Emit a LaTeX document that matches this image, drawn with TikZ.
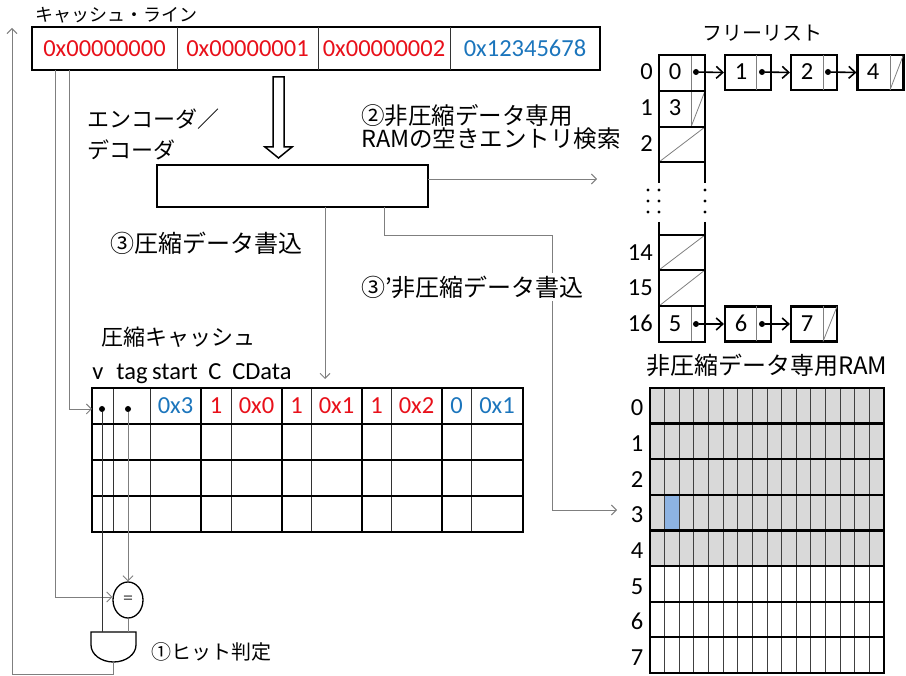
\documentclass[tikz,border=0pt]{standalone}
\usepackage{fontspec}
\setmainfont{Carlito}
\newfontfamily\jp{Noto Sans CJK JP}
\usetikzlibrary{arrows.meta,shapes.geometric,calc}
\definecolor{hexred}{HTML}{E8101A}
\definecolor{hexblue}{HTML}{1B75BC}
\definecolor{wire}{HTML}{7F7F7F}
\definecolor{ramgray}{HTML}{D9D9D9}
\definecolor{ramblue}{HTML}{8DB3E2}
\tikzset{
  thickline/.style={line width=2.2pt, black},
  thinline/.style={line width=0.9pt, black!80},
  grayline/.style={line width=0.8pt, wire},
  wireline/.style={line width=0.9pt, wire},
  wirearrow/.style={wireline, -{Straight Barb[length=5pt,width=10pt]}},
  listarrow/.style={line width=1.6pt, black, -{Straight Barb[length=6.5pt,width=12pt]}},
  jptext/.style={inner sep=0pt, font=\jp\fontsize{#1}{#1}\selectfont},
  jptext/.default=22,
  numtext/.style={inner sep=0pt, anchor=base, font=\fontsize{24.5}{24.5}\selectfont},
  dotmark/.style={circle, fill=black, inner sep=0pt, minimum size=6pt},
  listbox/.style={draw, line width=2.2pt, minimum width=46pt, minimum height=35pt, inner sep=0pt},
}
\begin{document}
\begin{tikzpicture}[x=1pt,y=-1pt]
\useasboundingbox (0,0) rectangle (906,676);

% ---------------- cache line ----------------
\node[jptext=18, anchor=west] (cltitle) at (35,15) {キャッシュ・ライン};
\node[draw, thickline, minimum width=568pt, minimum height=43pt, inner sep=0pt] (cline) at (316,48.5) {};
\foreach \x in {177,318,450} \draw[thinline] (\x,27) -- (\x,70);
\node[numtext, text=hexred] (cl0) at (104.5,57) {0x00000000};
\node[numtext, text=hexred] (cl1) at (247.5,57) {0x00000001};
\node[numtext, text=hexred] (cl2) at (384,57) {0x00000002};
\node[numtext, text=hexblue] (cl3) at (525,57) {0x12345678};
\coordinate (clA) at (55,70);
\coordinate (clB) at (69,70);

% hollow arrow
\draw[line width=1.5pt, fill=white] (273,77) -- (284,77) -- (284,147) -- (292,147) -- (278.5,158) -- (265,147) -- (273,147) -- cycle;

% ---------------- encoder ----------------
\node[jptext=22, anchor=west] (enclbl1) at (87,119) {エンコーダ／};
\node[jptext=22, anchor=west] (enclbl2) at (87,150) {デコーダ};
\node[draw, line width=2.2pt, minimum width=271pt, minimum height=42pt, inner sep=0pt] (enc) at (292.5,186) {};
\coordinate (encR) at (428,179);
\coordinate (encB1) at (325,207);
\coordinate (encB2) at (384,207);

\node[jptext=23.5, anchor=west] (lbl2a) at (361,116) {②非圧縮データ専用};
\node[jptext=23.5, anchor=west] (lbl2b) at (361,139) {RAMの空きエントリ検索};
\node[jptext=24, anchor=west] (lbl3) at (110,243) {③圧縮データ書込};

% ---------------- compressed cache ----------------
\node[jptext=22, anchor=west] (cctitle) at (101,337) {圧縮キャッシュ};
\node[numtext] (hv) at (98,380) {v};
\node[numtext] (htag) at (132,380) {tag};
\node[numtext] (hstart) at (175,380) {start};
\node[numtext] (hc) at (215,380) {C};
\node[numtext] (hcd) at (262,380) {CData};

\foreach \x in {113,150,231,311,391,471} \draw[thinline] (\x,388) -- (\x,532);
\foreach \x in {201,282,362,442} \draw[thickline] (\x,388) -- (\x,532);
\foreach \y in {424,460,496} \draw[thickline] (92,\y) -- (523,\y);
\node[draw, thickline, minimum width=431pt, minimum height=144pt, inner sep=0pt] (tbl) at (307.5,460) {};

\node[numtext, text=hexblue] at (175.5,414) {0x3};
\node[numtext, text=hexred] at (216,414) {1};
\node[numtext, text=hexred] at (256.5,414) {0x0};
\node[numtext, text=hexred] at (296.5,414) {1};
\node[numtext, text=hexred] at (336.5,414) {0x1};
\node[numtext, text=hexred] at (376.5,414) {1};
\node[numtext, text=hexred] at (416.5,414) {0x2};
\node[numtext, text=hexblue] at (456.5,414) {0};
\node[numtext, text=hexblue] at (497,414) {0x1};

\node[dotmark] (vdot) at (102,409) {};
\node[dotmark] (tdot) at (128,409) {};
\coordinate (tblIn) at (92,409);

% ---------------- comparator and AND gate ----------------
\node[draw, ellipse, line width=1.3pt, minimum width=30pt, minimum height=36pt, inner sep=0pt, text=black!70, font=\fontsize{20}{20}\selectfont] (cmp) at (128,600) {=};
\draw[line width=1.3pt, fill=white] (91,632) -- (91,645) arc[start angle=180, end angle=0, x radius=22.5, y radius=17] -- (136,632) -- cycle;
\coordinate (andTopV) at (102,632);
\coordinate (andTopC) at (128,632);
\coordinate (andOut) at (113.5,662);
\node[jptext=20, anchor=west] (hitlbl) at (151,652) {①ヒット判定};

% wires
\draw[wirearrow] (clB) -- (clB |- tblIn) -- (tblIn);
\draw[wirearrow] (clA) -- (55,597) -- (cmp.west |- 0,597);
\draw[thinline] (vdot) -- (andTopV);
\draw[wirearrow] (tdot) -- (cmp.north);
\draw[wireline] (cmp.south) -- (andTopC);
\draw[wirearrow] (andOut) -- (113.5,674) -- (12,674) -- (12,28);
\draw[wirearrow] (encR) -- (597,179);
\draw[wirearrow] (encB1) -- (325,379);
\draw[wirearrow] (encB2) -- (384,235) -- (552,235) -- (552,510) -- (617,510);
\node[jptext=24, anchor=west, fill=white, inner sep=3pt] (lbl3p) at (358,287) {③’非圧縮データ書込};

% ---------------- free list ----------------
\node[jptext=20] (fltitle) at (762,33) {フリーリスト};
\draw[grayline] (691,55) -- (691,127);
\draw[grayline] (691,127) -- (705,91);
\draw[grayline] (659,162) -- (705,127);
\draw[thickline] (659,55) rectangle (705,162);
\draw[thickline] (659,91) -- (705,91);
\draw[thickline] (659,127) -- (705,127);
\draw[thickline] (659,162) -- (659,183);
\draw[thickline] (705,162) -- (705,183);
\foreach \yy in {190,201,212} {
  \fill (648,\yy) circle (1.7);
  \fill (659,\yy) circle (1.7);
  \fill (705,\yy) circle (1.7);
}
\draw[thickline] (659,222) -- (659,235);
\draw[thickline] (705,222) -- (705,235);
\draw[grayline] (659,270) -- (705,235);
\draw[grayline] (659,306) -- (705,270);
\draw[grayline] (691,306) -- (691,342);
\draw[thickline] (659,235) rectangle (705,342);
\draw[thickline] (659,270) -- (705,270);
\draw[thickline] (659,306) -- (705,306);

\node[numtext, anchor=base east] at (653,80) {0};
\node[numtext, anchor=base east] at (653,116) {1};
\node[numtext, anchor=base east] at (653,152) {2};
\node[numtext, anchor=base east] at (653,261) {14};
\node[numtext, anchor=base east] at (653,296) {15};
\node[numtext, anchor=base east] at (653,332) {16};
\node[numtext] at (675,80) {0};
\node[numtext] at (675,116) {3};
\node[numtext] at (675,332) {5};

\node[listbox] (fb1) at (748,72.5) {};
\node[listbox] (fb2) at (814,72.5) {};
\node[listbox] (fb4) at (880.5,72.5) {};
\node[listbox] (fb6) at (748,324) {};
\node[listbox] (fb7) at (814,324) {};
\draw[grayline] (756,55) -- (756,90);
\draw[grayline] (823,55) -- (823,90);
\draw[grayline] (890,55) -- (890,90);
\draw[grayline] (890,90) -- (903,56);
\draw[grayline] (756,306.5) -- (756,341.5);
\draw[grayline] (823,306.5) -- (823,341.5);
\draw[grayline] (823,341.5) -- (837,306.5);
\node[numtext] at (741,80) {1};
\node[numtext] at (807,80) {2};
\node[numtext] at (873,80) {4};
\node[numtext] at (741,332) {6};
\node[numtext] at (807,332) {7};

\node[dotmark] (p0) at (696,72) {};
\node[dotmark] (p1) at (762,72) {};
\node[dotmark] (p2) at (828,72) {};
\node[dotmark] (p16) at (696,324) {};
\node[dotmark] (p6) at (762,324) {};
\draw[listarrow] (p0) -- (fb1.west);
\draw[listarrow] (p1) -- (fb2.west);
\draw[listarrow] (p2) -- (fb4.west);
\draw[listarrow] (p16) -- (fb6.west);
\draw[listarrow] (p6) -- (fb7.west);

% ---------------- uncompressed RAM ----------------
\node[jptext=24, anchor=west] (ramtitle) at (646,365) {非圧縮データ専用RAM};
\fill[ramgray] (650,388) rectangle (884,566);
\fill[ramblue] (664.6,495.6) rectangle (679.25,531.4);
\foreach \i in {1,...,15} \draw[line width=0.8pt, black!75] (650+\i*14.625,388) -- (650+\i*14.625,672.8);
\foreach \j in {1,...,7} \draw[thickline] (650,388+\j*35.6) -- (884,388+\j*35.6);
\node[draw, thickline, minimum width=234pt, minimum height=284.8pt, inner sep=0pt] (ram) at (767,530.4) {};
\foreach \j in {0,...,7} \node[numtext] at (637,388+\j*35.6+28) {\j};
\end{tikzpicture}
\end{document}
